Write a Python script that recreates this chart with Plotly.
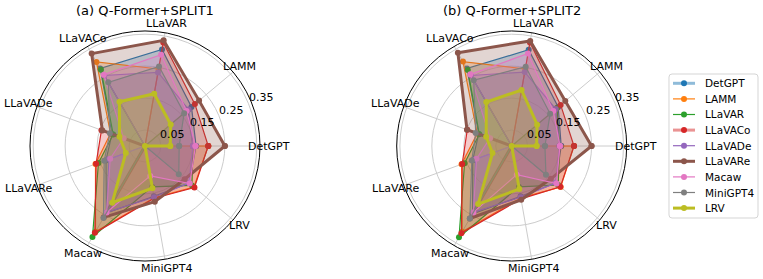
import math
import plotly.graph_objects as go

axes_labels = ["DetGPT", "LAMM", "LLaVAR", "LLaVACo", "LLaVADe", "LLaVARe", "Macaw", "MiniGPT4", "LRV"]
series_names = ["DetGPT", "LAMM", "LLaVAR", "LLaVACo", "LLaVADe", "LLaVARe", "Macaw", "MiniGPT4", "LRV"]
radial_ticks = [0.05, 0.15, 0.25, 0.35]
radial_tick_text = ["0.05", "0.15", "0.25", "0.35"]
titles = ["(a) Q-Former+SPLIT1", "(b) Q-Former+SPLIT2"]

# SPLIT1 values (per series, per axis in axes_labels order)
split1_detgpt = [0.160, 0.190, 0.307, 0.280, 0.110, 0.130, 0.242, 0.160, 0.180]
split1_lamm = [0.198, 0.000, 0.245, 0.304, 0.115, 0.165, 0.310, 0.165, 0.200]
split1_llavar = [0.150, 0.175, 0.000, 0.276, 0.106, 0.155, 0.329, 0.130, 0.192]
split1_llavaco = [0.198, 0.204, 0.329, 0.000, 0.145, 0.163, 0.314, 0.166, 0.202]
split1_llavade = [0.150, 0.178, 0.234, 0.255, 0.000, 0.120, 0.240, 0.163, 0.180]
split1_llavare = [0.250, 0.221, 0.336, 0.334, 0.142, 0.000, 0.258, 0.177, 0.162]
split1_macaw = [0.158, 0.170, 0.290, 0.258, 0.071, 0.116, 0.240, 0.095, 0.183]
split1_minigpt4 = [0.107, 0.160, 0.253, 0.230, 0.117, 0.136, 0.260, 0.000, 0.138]
split1_lrv = [0.079, 0.105, 0.166, 0.160, 0.085, 0.064, 0.205, 0.134, 0.000]

# SPLIT2 values
split2_detgpt = [0.155, 0.190, 0.306, 0.280, 0.110, 0.130, 0.245, 0.160, 0.180]
split2_lamm = [0.195, 0.000, 0.245, 0.305, 0.115, 0.167, 0.310, 0.165, 0.200]
split2_llavar = [0.150, 0.185, 0.000, 0.275, 0.108, 0.157, 0.330, 0.130, 0.190]
split2_llavaco = [0.195, 0.200, 0.329, 0.000, 0.148, 0.165, 0.315, 0.168, 0.199]
split2_llavade = [0.150, 0.180, 0.235, 0.255, 0.000, 0.120, 0.240, 0.163, 0.180]
split2_llavare = [0.250, 0.219, 0.334, 0.337, 0.149, 0.000, 0.262, 0.171, 0.160]
split2_macaw = [0.151, 0.170, 0.294, 0.259, 0.072, 0.117, 0.240, 0.091, 0.183]
split2_minigpt4 = [0.104, 0.157, 0.252, 0.238, 0.120, 0.133, 0.262, 0.000, 0.140]
split2_lrv = [0.078, 0.104, 0.178, 0.159, 0.085, 0.064, 0.210, 0.137, 0.000]

split1 = [split1_detgpt, split1_lamm, split1_llavar, split1_llavaco, split1_llavade,
          split1_llavare, split1_macaw, split1_minigpt4, split1_lrv]
split2 = [split2_detgpt, split2_lamm, split2_llavar, split2_llavaco, split2_llavade,
          split2_llavare, split2_macaw, split2_minigpt4, split2_lrv]

colors = ["#1f77b4", "#ff7f0e", "#2ca02c", "#d62728", "#9467bd",
          "#8c564b", "#e377c2", "#7f7f7f", "#bcbd22"]
widths = [1.2, 1.2, 1.2, 1.2, 1.2, 3.0, 1.2, 1.2, 3.0]
legend_widths = [3.0, 1.2, 1.2, 3.0, 1.2, 3.0, 1.2, 1.2, 3.0]
legend_alpha = [0.5, 1, 1, 0.5, 1, 1, 1, 1, 1]

def rgba(h, a):
    h = h.lstrip("#")
    return "rgba(%d,%d,%d,%.2f)" % (int(h[0:2], 16), int(h[2:4], 16), int(h[4:6], 16), a)

n = len(axes_labels)
angles = [i * 360.0 / n for i in range(n)]
theta_closed = angles + [angles[0]]

fig = go.Figure()
for pi, data in enumerate([split1, split2]):
    pname = "polar" if pi == 0 else "polar2"
    for si, vals in enumerate(data):
        fig.add_trace(go.Scatterpolar(
            r=vals + [vals[0]], theta=theta_closed, subplot=pname,
            mode="lines+markers", name=series_names[si],
            line=dict(color=colors[si], width=widths[si]),
            marker=dict(color=colors[si], size=6),
            fill="toself", fillcolor=rgba(colors[si], 0.25),
            showlegend=False, legendgroup=series_names[si],
        ))

W, H = 763, 279
R = 115.0
RMAX = 0.36
centers = [(145.0, 146.0), (511.7, 146.0)]

def px(x):
    return x / W

def py(y):
    return 1 - y / H

def dom(cx, cy):
    return dict(x=[px(cx - R), px(cx + R)], y=[py(cy + R), py(cy - R)])

def polar_cfg(cx, cy):
    return dict(
        domain=dom(cx, cy),
        bgcolor="white",
        angularaxis=dict(
            rotation=0, direction="counterclockwise",
            tickmode="array", tickvals=angles, ticktext=axes_labels,
            showticklabels=False,
            showline=True, linecolor="black", linewidth=1,
            gridcolor="#cccccc", gridwidth=1, ticks="",
        ),
        radialaxis=dict(
            range=[0, RMAX], tickmode="array", tickvals=radial_ticks,
            showticklabels=False, showline=False, ticks="",
            gridcolor="#cccccc", gridwidth=1,
        ),
    )

annotations = []
font = dict(family="DejaVu Sans", size=11, color="black")
for (cx, cy), title in zip(centers, titles):
    annotations.append(dict(text=title, x=px(cx), y=py(10), xref="paper", yref="paper",
                            showarrow=False, font=dict(family="DejaVu Sans", size=13, color="black"),
                            xanchor="center", yanchor="middle"))
    # category labels centred just outside the rim
    for ang, lab in zip(angles, axes_labels):
        a = math.radians(ang)
        rr = R + 9
        annotations.append(dict(text=lab, x=px(cx + rr * math.cos(a)), y=py(cy - rr * math.sin(a)),
                                xref="paper", yref="paper", showarrow=False, font=font,
                                xanchor="center", yanchor="middle"))
    # radial tick labels along 22.5 degrees
    a = math.radians(22.5)
    for v, t in zip(radial_ticks, radial_tick_text):
        rr = v / RMAX * R + 14
        annotations.append(dict(text=t, x=px(cx + rr * math.cos(a)), y=py(cy - rr * math.sin(a)),
                                xref="paper", yref="paper", showarrow=False, font=font,
                                xanchor="center", yanchor="middle"))

# legend (drawn as layout elements)
shapes = []
lg_left, lg_top, lg_right, lg_bottom = 669, 74, 758, 218
rad = 3
shapes.append(dict(
    type="path", xref="paper", yref="paper",
    path=("M %f,%f L %f,%f Q %f,%f %f,%f L %f,%f Q %f,%f %f,%f L %f,%f Q %f,%f %f,%f L %f,%f Q %f,%f %f,%f Z" % (
        px(lg_left + rad), py(lg_top), px(lg_right - rad), py(lg_top),
        px(lg_right), py(lg_top), px(lg_right), py(lg_top + rad),
        px(lg_right), py(lg_bottom - rad),
        px(lg_right), py(lg_bottom), px(lg_right - rad), py(lg_bottom),
        px(lg_left + rad), py(lg_bottom),
        px(lg_left), py(lg_bottom), px(lg_left), py(lg_bottom - rad),
        px(lg_left), py(lg_top + rad),
        px(lg_left), py(lg_top), px(lg_left + rad), py(lg_top))),
    line=dict(color="#d5d5d5", width=1), fillcolor="rgba(255,255,255,0.8)", layer="above"))
first_y, step = 83.3, 15.6
for i, name in enumerate(series_names):
    y = first_y + i * step
    shapes.append(dict(type="line", xref="paper", yref="paper",
                       x0=px(673), x1=px(695), y0=py(y), y1=py(y),
                       line=dict(color=rgba(colors[i], legend_alpha[i]), width=legend_widths[i]),
                       layer="above"))
    shapes.append(dict(type="circle", xref="paper", yref="paper",
                       x0=px(684 - 3), x1=px(684 + 3), y0=py(y + 3), y1=py(y - 3),
                       line=dict(color=colors[i], width=0), fillcolor=colors[i], layer="above"))
    annotations.append(dict(text=name, x=px(703), y=py(y), xref="paper", yref="paper",
                            showarrow=False, font=dict(family="DejaVu Sans", size=10.5, color="black"),
                            xanchor="left", yanchor="middle"))

fig.update_layout(
    width=W, height=H, autosize=False,
    margin=dict(l=0, r=0, t=0, b=0),
    paper_bgcolor="white",
    polar=polar_cfg(*centers[0]),
    polar2=polar_cfg(*centers[1]),
    font=font,
    showlegend=False,
    annotations=annotations,
    shapes=shapes,
)

fig.write_html(
    "out.html",
    config={"displayModeBar": False},
    post_script="document.body.style.margin='0px';document.body.style.padding='0px';"
                "document.documentElement.style.overflow='hidden';",
)
